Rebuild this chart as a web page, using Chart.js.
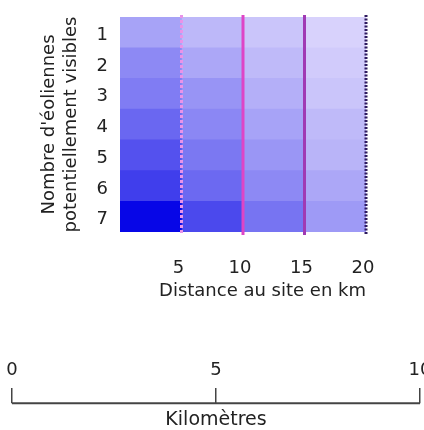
<!DOCTYPE html>
<html lang="fr">
<head>
    <meta charset="UTF-8">
    <title>Visibilité des éoliennes</title>
    <script src="https://cdn.jsdelivr.net/npm/chart.js"></script>
    <style>
        html, body {
            margin: 0;
            padding: 0;
            background: #ffffff;
            width: 424px;
            height: 430px;
            overflow: hidden;
        }
        #heatmap { position: absolute; left: 0; top: 0; }
        #scaleBar { position: absolute; left: 0; top: 340px; }
    </style>
</head>
<body>
    <canvas id="heatmap" width="424" height="310"></canvas>
    <canvas id="scaleBar" width="440" height="91"></canvas>

    <script>
        // Rows: number of turbines potentially visible
        const turbineCounts = ['1', '2', '3', '4', '5', '6', '7'];
        // Columns: distance bands from the site (km)
        const bandStart = [0, 5, 10, 15];
        const bandEnd = [5, 10, 15, 20];
        // Visual impact per cell (0 = weak, 1 = strong), one array per band
        const impact0to5 = [0.24, 0.36, 0.42, 0.52, 0.62, 0.71, 0.97];
        const impact5to10 = [0.14, 0.22, 0.31, 0.37, 0.44, 0.51, 0.66];
        const impact10to15 = [0.08, 0.13, 0.18, 0.24, 0.30, 0.36, 0.46];
        const impact15to20 = [0.02, 0.05, 0.08, 0.13, 0.16, 0.22, 0.28];
        // Axis ticks
        const distanceTicks = [5, 10, 15, 20];
        const boundaryKm = [5, 10, 15, 20];
        const scaleBarKm = [0, 5, 10];

        const impactByBand = [impact0to5, impact5to10, impact10to15, impact15to20];

        // light lavender -> deep blue
        function rampColor(s) {
            const r = Math.round(220 * (1 - s));
            const g = Math.round(214 * (1 - s));
            const b = Math.round(252 - 22 * s);
            return `rgb(${r},${g},${b})`;
        }

        const boundaryStyles = [
            { color: '#e993e8', width: 3, dash: [3, 2] },
            { color: '#de45c6', width: 3, dash: [] },
            { color: '#a03ab4', width: 3, dash: [] },
            { color: '#2e1a5e', width: 3, dash: [2, 1.5] }
        ];

        const boundaryLines = {
            id: 'boundaryLines',
            afterDatasetsDraw(chart) {
                const { ctx, chartArea, scales: { x } } = chart;
                boundaryKm.forEach((km, i) => {
                    const px = x.getPixelForValue(km);
                    const s = boundaryStyles[i];
                    ctx.save();
                    ctx.strokeStyle = s.color;
                    ctx.lineWidth = s.width;
                    ctx.setLineDash(s.dash);
                    ctx.beginPath();
                    ctx.moveTo(px, chartArea.top - 2);
                    ctx.lineTo(px, chartArea.bottom + 3);
                    ctx.stroke();
                    ctx.restore();
                });
            }
        };

        Chart.defaults.font.family = "'DejaVu Sans', sans-serif";
        Chart.defaults.color = '#222';

        // Heatmap
        new Chart(document.getElementById('heatmap'), {
            type: 'bar',
            data: {
                labels: turbineCounts,
                datasets: bandStart.map((start, i) => ({
                    label: start + '-' + bandEnd[i] + ' km',
                    data: turbineCounts.map(() => [start, bandEnd[i]]),
                    backgroundColor: impactByBand[i].map(rampColor),
                    borderWidth: 0,
                    grouped: false,
                    barPercentage: 1,
                    categoryPercentage: 1
                }))
            },
            options: {
                indexAxis: 'y',
                responsive: false,
                animation: false,
                layout: { padding: { top: 17, right: 58, bottom: 0, left: 0 } },
                scales: {
                    x: {
                        type: 'linear',
                        min: 0,
                        max: 20,
                        afterBuildTicks: s => { s.ticks = distanceTicks.map(v => ({ value: v })); },
                        grid: { display: false },
                        border: { display: false },
                        ticks: { padding: 18, labelOffset: -3, font: { size: 18 }, color: '#222', maxRotation: 0 },
                        title: {
                            display: true,
                            text: 'Distance au site en km',
                            align: 'end',
                            font: { size: 18 },
                            color: '#222',
                            padding: { top: 0, bottom: 8 }
                        },
                        afterFit: s => { s.height = 78; s.paddingLeft = 0; s.paddingRight = 0; }
                    },
                    y: {
                        type: 'category',
                        grid: { display: false, drawTicks: false },
                        border: { display: false },
                        ticks: { padding: 12, labelOffset: 3, font: { size: 18 }, color: '#222' },
                        title: {
                            display: true,
                            text: ["Nombre d'éoliennes", 'potentiellement visibles'],
                            font: { size: 18, lineHeight: 1.22 },
                            color: '#222',
                            padding: { top: 38, bottom: 0 }
                        },
                        afterFit: s => { s.width = 120; s.paddingTop = 0; s.paddingBottom = 0; }
                    }
                },
                plugins: {
                    legend: { display: false },
                    tooltip: { enabled: false }
                }
            },
            plugins: [boundaryLines]
        });

        // Scale bar
        new Chart(document.getElementById('scaleBar'), {
            type: 'line',
            data: {
                datasets: [{
                    data: [{ x: scaleBarKm[0], y: 0 }, { x: scaleBarKm[scaleBarKm.length - 1], y: 0 }],
                    borderColor: '#444',
                    borderWidth: 2,
                    pointRadius: 0,
                    clip: false
                }]
            },
            options: {
                responsive: false,
                animation: false,
                layout: { padding: { top: 0, right: 20, bottom: 0, left: 12 } },
                scales: {
                    x: {
                        type: 'linear',
                        position: 'top',
                        min: 0,
                        max: 10,
                        afterBuildTicks: s => { s.ticks = scaleBarKm.map(v => ({ value: v })); },
                        grid: { display: true, drawTicks: false, color: '#444', lineWidth: 1.5 },
                        border: { display: false },
                        ticks: { padding: 7, font: { size: 18 }, color: '#222', maxRotation: 0 },
                        afterFit: s => { s.height = 48; s.paddingLeft = 0; s.paddingRight = 0; }
                    },
                    y: { display: false, min: 0, max: 1 }
                },
                plugins: {
                    legend: { display: false },
                    tooltip: { enabled: false },
                    title: {
                        display: true,
                        text: 'Kilomètres',
                        position: 'bottom',
                        fullSize: false,
                        font: { size: 19, weight: 'normal' },
                        color: '#222',
                        padding: { top: 5, bottom: 0 }
                    }
                }
            }
        });
    </script>
</body>
</html>
